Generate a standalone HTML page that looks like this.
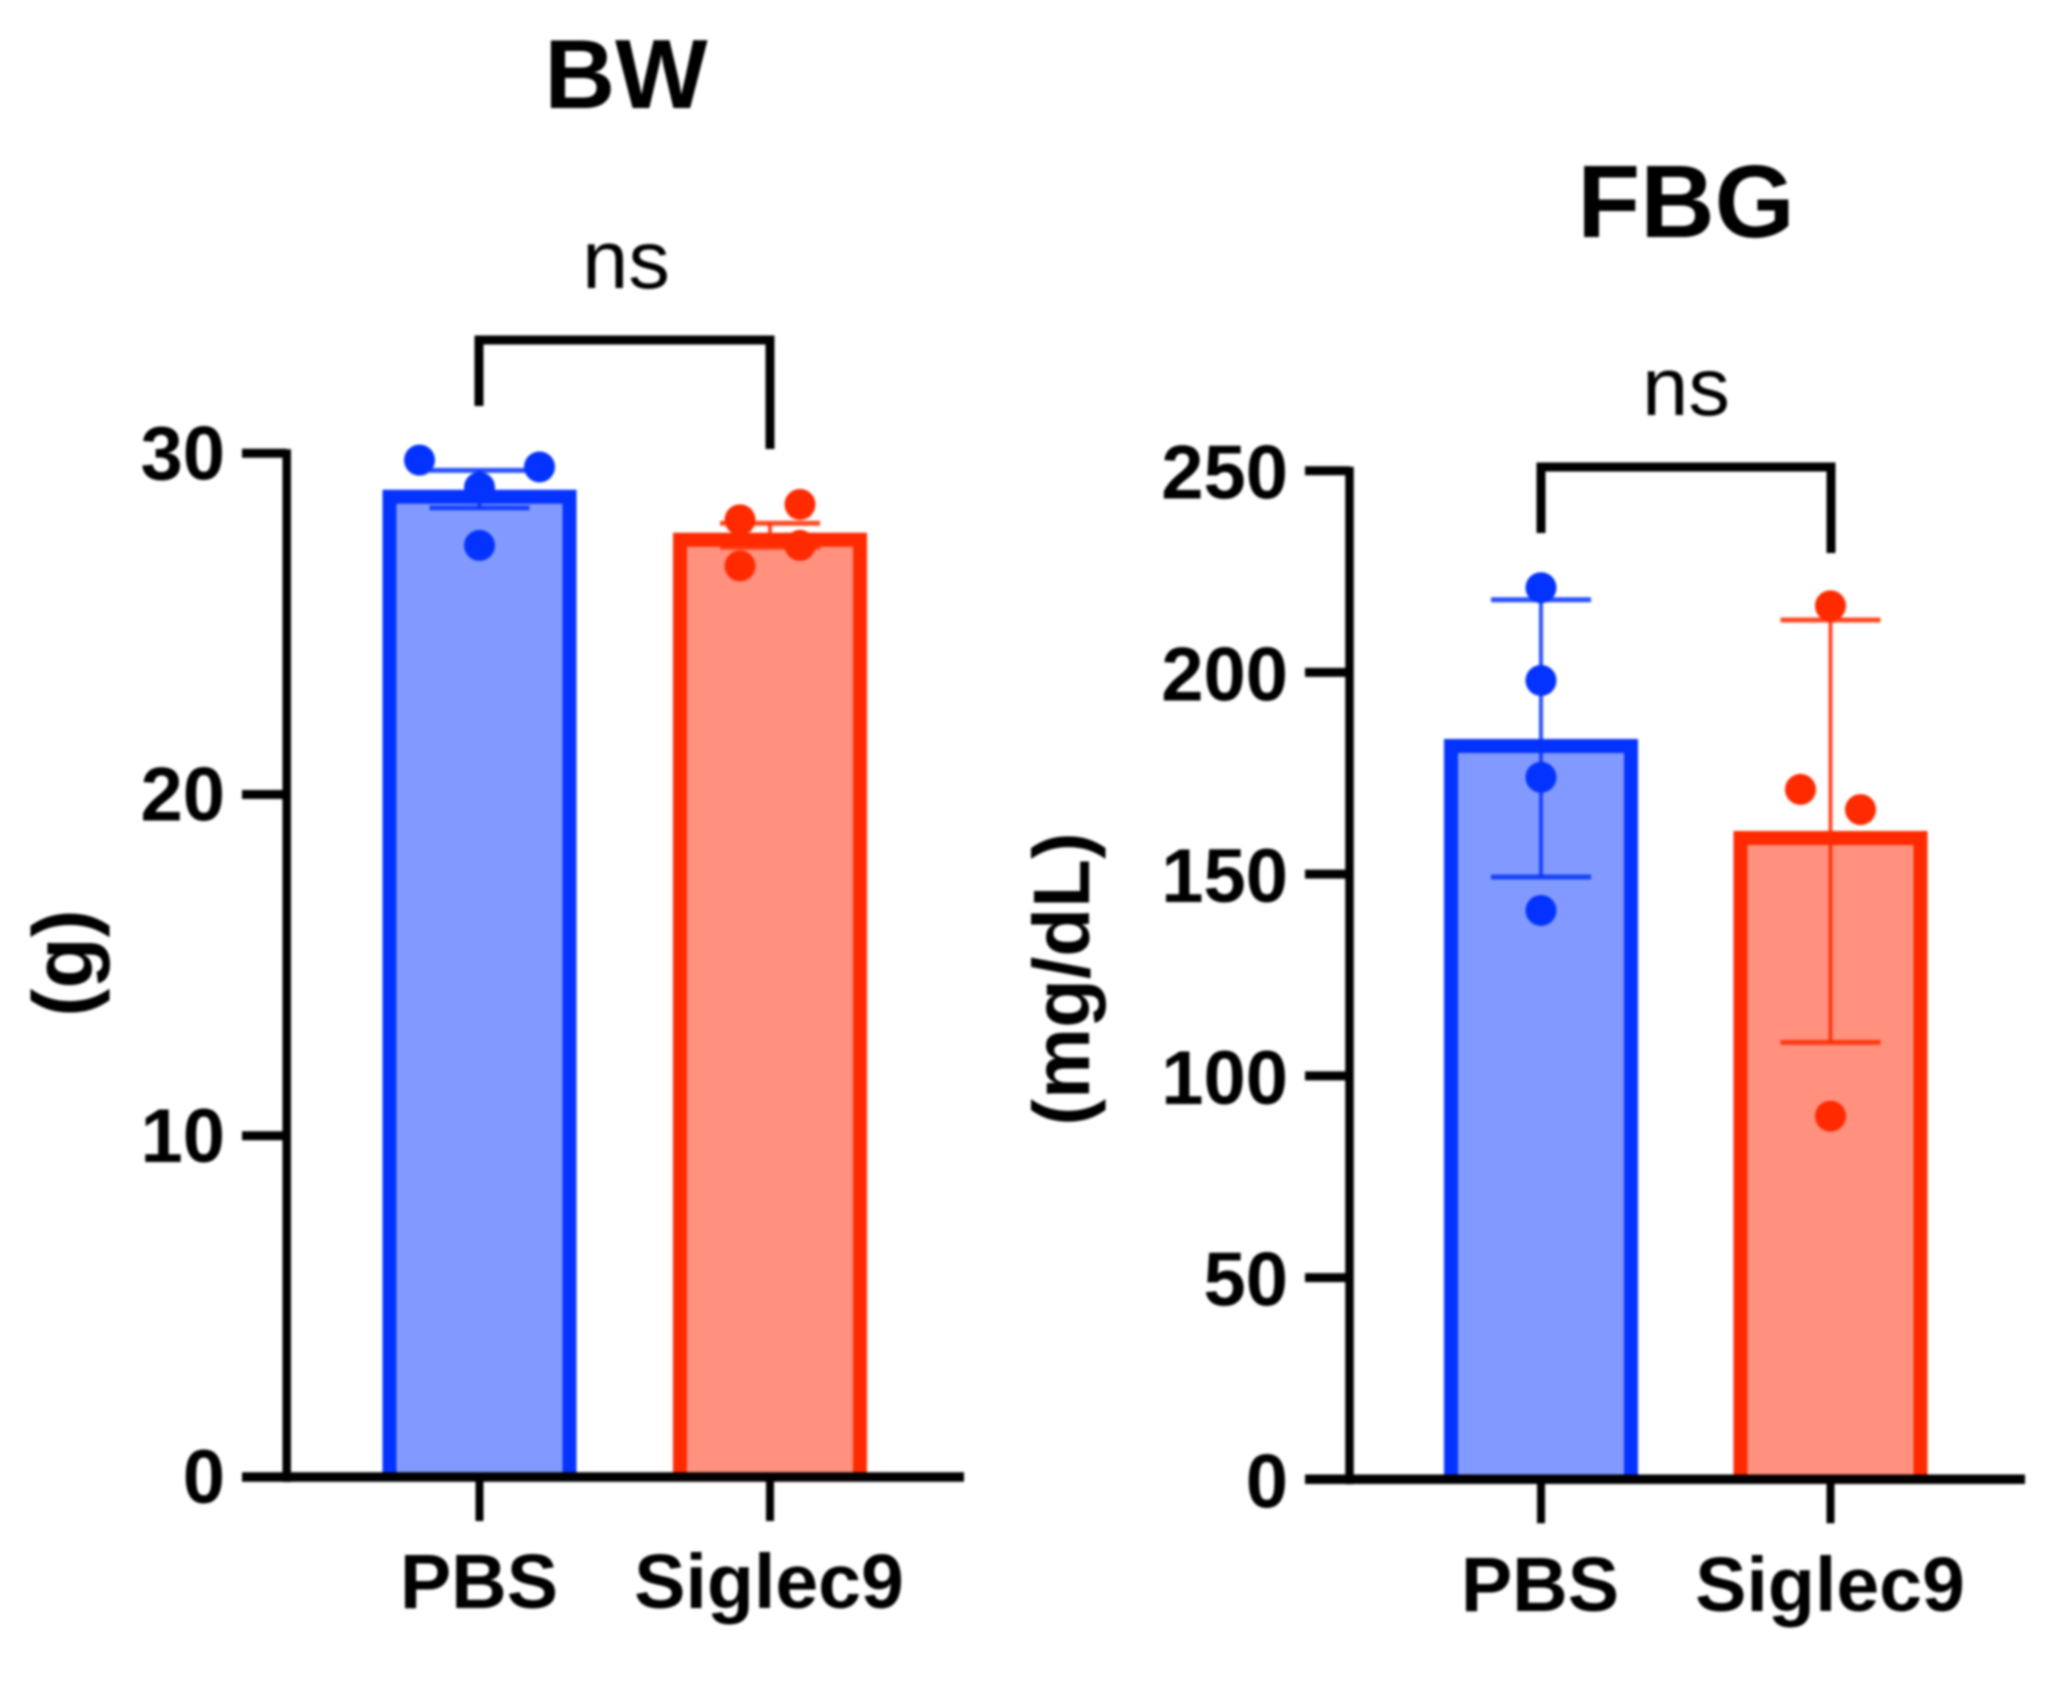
<!DOCTYPE html>
<html lang="en">
<head>
<meta charset="utf-8">
<title>BW and FBG bar charts</title>
<style>
  html, body { margin: 0; padding: 0; background: #fff; }
  body { width: 2068px; height: 1682px; overflow: hidden; }
  svg { display: block; filter: blur(1.2px); }
  text { font-family: "Liberation Sans", Arial, sans-serif; fill: #000; }
  .bold { font-weight: 700; }
</style>
</head>
<body>
<svg id="figure" xmlns="http://www.w3.org/2000/svg" width="2068" height="1682" viewBox="0 0 2068 1682">
  <rect x="0" y="0" width="2068" height="1682" fill="#fff"/>
  <g id="bw-chart">
    <text class="bold" x="626" y="108" font-size="98" text-anchor="middle">BW</text>
    <text x="626" y="288" font-size="83" text-anchor="middle">ns</text>
    <text class="bold" transform="translate(92 963) rotate(-90)" font-size="84" text-anchor="middle">(g)</text>
    <path d="M479 406V340H770V449" fill="none" stroke="#000" stroke-width="9"/>
  </g>
  <g id="fbg-chart">
    <text class="bold" x="1686" y="237" font-size="103" text-anchor="middle">FBG</text>
    <text x="1686" y="415" font-size="83" text-anchor="middle">ns</text>
    <text class="bold" transform="translate(1089 979) rotate(-90)" font-size="80" text-anchor="middle">(mg/dL)</text>
    <path d="M1541 533V467H1831V553" fill="none" stroke="#000" stroke-width="9"/>
  </g>
</svg>
<script>
  // ---- data ----
  var categories = ['PBS', 'Siglec9'];

  var bwTicks = [0, 10, 20, 30];
  var bwMeans = [28.93, 27.67];
  var bwErrHigh = [29.5, 27.95];
  var bwErrLow = [28.4, 27.25];
  var bwPbsPoints = [29.8, 29.6, 29.0, 27.3];
  var bwSiglecPoints = [28.05, 28.5, 26.7, 27.3];

  var fbgTicks = [0, 50, 100, 150, 200, 250];
  var fbgMeans = [183.5, 160.7];
  var fbgErrHigh = [218, 213];
  var fbgErrLow = [149.3, 108.3];
  var fbgPbsPoints = [221, 198, 174, 141];
  var fbgSiglecPoints = [216.5, 171, 166, 90];

  var BLUE = '#0433ff', BLUE_FILL = '#829aff', RED = '#ff2a00', RED_FILL = '#ff917e';
  var NS = 'http://www.w3.org/2000/svg';

  function make(tag, parent, attrs) {
    var node = document.createElementNS(NS, tag);
    for (var k in attrs) { node.setAttribute(k, attrs[k]); }
    parent.appendChild(node);
    return node;
  }

  // Dodge dots that would overlap vertically into rows, centred on the bar.
  function swarm(values, yOf, radius) {
    var out = [], row = [];
    function flush() {
      var n = row.length;
      var layout = n === 1 ? [0] : n === 2 ? [-30, 30] : n === 3 ? [-60, 60, 0] : row.map(function (_, i) { return (i - (n - 1) / 2) * 40; });
      row.forEach(function (v, i) { out.push({ value: v, dx: layout[i] }); });
      row = [];
    }
    values.forEach(function (v) {
      if (row.length && Math.abs(yOf(row[0]) - yOf(v)) >= radius * 2) { flush(); }
      row.push(v);
    });
    if (row.length) { flush(); }
    return out;
  }

  function drawChart(o) {
    var g = document.getElementById(o.id);
    function y(v) { return o.y0 + (o.yTop - o.y0) * v / o.yMax; }

    // bars, error bars and points
    categories.forEach(function (name, i) {
      var cx = o.centers[i];
      var stroke = i === 0 ? BLUE : RED;
      var fill = i === 0 ? BLUE_FILL : RED_FILL;
      var half = 97, bw = 14;
      var top = y(o.means[i]) + bw / 2;
      var left = cx - half + bw / 2;
      var right = cx + half - bw / 2;

      var bar = make('path', g, {
        d: 'M' + left + ' ' + o.y0 + 'V' + top + 'H' + right + 'V' + o.y0,
        fill: fill,
        stroke: stroke,
        'stroke-width': bw
      });
      
      

      var stem = make('line', g, {
        x1: cx, x2: cx, y1: y(o.errHigh[i]), y2: y(o.errLow[i]),
        stroke: stroke, 'stroke-width': 4, 'stroke-opacity': 0.85
      });
      
      

      var capTop = make('line', g, {
        x1: cx - 50, x2: cx + 50, y1: y(o.errHigh[i]), y2: y(o.errHigh[i]),
        stroke: stroke, 'stroke-width': 5, 'stroke-opacity': 0.85
      });
      
      

      var capBottom = make('line', g, {
        x1: cx - 50, x2: cx + 50, y1: y(o.errLow[i]), y2: y(o.errLow[i]),
        stroke: stroke, 'stroke-width': 5, 'stroke-opacity': 0.85
      });
      
      

      swarm(o.points[i], y, 16).forEach(function (p) {
        var dot = make('circle', g, {
          cx: cx + p.dx, cy: y(p.value), r: 15.5, fill: stroke
        });
        
        
      });

      var xTick = make('line', g, {
        x1: cx, x2: cx, y1: o.y0, y2: o.y0 + 44, stroke: '#000', 'stroke-width': 8
      });
      
      

      var xLabel = make('text', g, {
        x: o.labelCenters[i], y: o.xLabelY, 'font-size': 77, 'text-anchor': 'middle', 'class': 'bold'
      });
      xLabel.textContent = name;
      
      
    });

    // axes
    var yAxis = make('line', g, {
      x1: o.axisX, x2: o.axisX, y1: y(o.yMax) - 4, y2: o.y0 + 5, stroke: '#000', 'stroke-width': 8.5
    });
    
    

    var xAxis = make('line', g, {
      x1: o.axisLeft, x2: o.axisRight, y1: o.y0, y2: o.y0, stroke: '#000', 'stroke-width': 9.5
    });
    
    

    o.ticks.forEach(function (t) {
      var tick = make('line', g, {
        x1: o.axisLeft, x2: o.axisX, y1: y(t), y2: y(t), stroke: '#000', 'stroke-width': 9
      });
      
      

      var label = make('text', g, {
        x: o.labelRight, y: y(t) + o.labelDrop, 'font-size': 76, 'text-anchor': 'end', 'class': 'bold'
      });
      label.textContent = String(t);
      
      
    });
  }

  drawChart({
    id: 'bw-chart',
    y0: 1477, yTop: 453.3, yMax: 30,
    axisX: 286.7, axisLeft: 242, axisRight: 964, labelRight: 225, labelDrop: 26,
    centers: [479.5, 770], labelCenters: [479, 769], xLabelY: 1608,
    ticks: bwTicks, means: bwMeans, errHigh: bwErrHigh, errLow: bwErrLow,
    points: [bwPbsPoints, bwSiglecPoints]
  });

  drawChart({
    id: 'fbg-chart',
    y0: 1479.3, yTop: 470.7, yMax: 250,
    axisX: 1349.5, axisLeft: 1305, axisRight: 2025, labelRight: 1288, labelDrop: 28,
    centers: [1541, 1830.5], labelCenters: [1540, 1830], xLabelY: 1611,
    ticks: fbgTicks, means: fbgMeans, errHigh: fbgErrHigh, errLow: fbgErrLow,
    points: [fbgPbsPoints, fbgSiglecPoints]
  });
</script>
</body>
</html>
